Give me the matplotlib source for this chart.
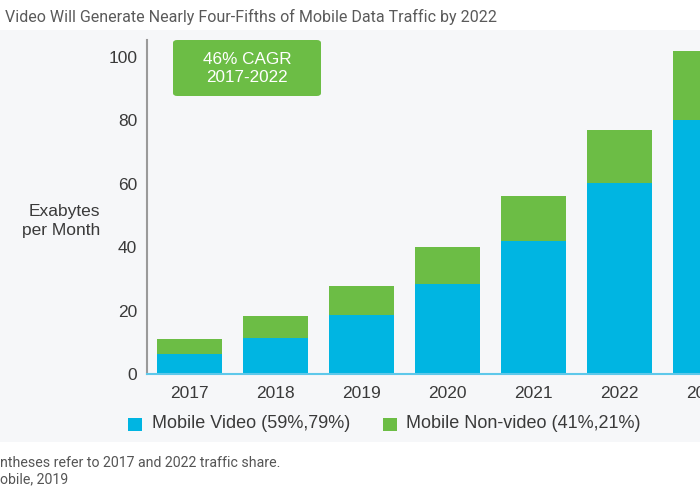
import matplotlib
matplotlib.use("Agg")
import matplotlib.pyplot as plt
from matplotlib.patches import Rectangle, FancyBboxPatch

years = ['2017', '2018', '2019', '2020', '2021', '2022', '2023']
video = [6.3, 11.4, 18.7, 28.5, 42.1, 60.4, 80.0]
nonvideo = [4.6, 7.0, 9.1, 11.7, 14.2, 16.6, 21.9]
yticks = [0, 20, 40, 60, 80, 100]

title = "Video Will Generate Nearly Four-Fifths of Mobile Data Traffic by 2022"
ylabel = "Exabytes\nper Month"
legend_labels = ["Mobile Video (59%,79%)", "Mobile Non-video (41%,21%)"]
cagr_text = "46% CAGR\n2017-2022"
notes = ["ntheses refer to 2017 and 2022 traffic share.", "obile, 2019"]

C_VIDEO = "#00b5e2"
C_NON = "#6cbd45"
TXT = "#3a3a3a"

W, H = 700, 500
fig = plt.figure(figsize=(7, 5), dpi=100)
fig.patch.set_facecolor("white")

# gray panel background
bg = fig.add_axes([0, 1 - 442 / H, 1, (442 - 30) / H], zorder=-5)
bg.set_facecolor("#f6f7f9")
bg.set_axis_off()
bg.add_patch(Rectangle((0, 0), 1, 1, transform=bg.transAxes, facecolor="#f6f7f9", edgecolor="none"))

ax = fig.add_axes([147 / W, 1 - 374 / H, (W - 147) / W + 0.05, (374 - 40) / H], zorder=1)
ax.set_facecolor("none")
x = list(range(len(years)))
ax.bar(x, video, width=0.767, color=C_VIDEO, zorder=2)
ax.bar(x, nonvideo, width=0.767, bottom=video, color=C_NON, zorder=2)
ax.set_xlim(-0.494, -0.494 + (W - 147) / 86 + 0.05 * W / 86)
ax.set_ylim(0, 105.4)
ax.set_yticks(yticks)
ax.set_yticklabels([str(v) for v in yticks], fontsize=12.5, color=TXT, family="Liberation Sans")
ax.set_xticks(x)
ax.set_xticklabels(years, fontsize=12.5, color=TXT, family="Liberation Sans")
ax.tick_params(length=0)
ax.tick_params(axis="y", pad=7)
ax.tick_params(axis="x", pad=9)
for s in ["top", "right"]:
    ax.spines[s].set_visible(False)
ax.spines["left"].set_color("#9a9a9a")
ax.spines["left"].set_linewidth(1.5)
ax.spines["bottom"].set_color("#5ec8ea")
ax.spines["bottom"].set_linewidth(1.5)

fig.text(100 / W, 1 - 221 / H, ylabel, ha="right", va="center", fontsize=12.5,
         color=TXT, family="Liberation Sans", linespacing=1.3)

fig.text(5 / W, 1 - 17 / H, title, ha="left", va="center", fontsize=11.5,
         color="#5a5a5a", family="Roboto")

# CAGR box
fig.patches.append(FancyBboxPatch((173 / W, 1 - 96 / H), (321 - 173) / W, (96 - 40) / H,
                                  boxstyle="round,pad=0,rounding_size=0.006",
                                  transform=fig.transFigure, facecolor=C_NON,
                                  edgecolor="none", zorder=3))
fig.text(247 / W, 1 - 68 / H, cagr_text, ha="center", va="center", fontsize=12.3,
         color="white", family="Liberation Sans", linespacing=1.25, zorder=4)

# legend
fig.patches.append(Rectangle((128 / W, 1 - 431 / H), 14 / W, 13 / H, transform=fig.transFigure,
                             facecolor=C_VIDEO, edgecolor="none", zorder=3))
fig.text(152 / W, 1 - 424 / H, legend_labels[0], ha="left", va="center", fontsize=13,
         color=TXT, family="Liberation Sans", zorder=4)
fig.patches.append(Rectangle((383 / W, 1 - 431 / H), 14 / W, 13 / H, transform=fig.transFigure,
                             facecolor=C_NON, edgecolor="none", zorder=3))
fig.text(406 / W, 1 - 424 / H, legend_labels[1], ha="left", va="center", fontsize=13,
         color=TXT, family="Liberation Sans", zorder=4)

fig.text(0, 1 - 463 / H, notes[0], ha="left", va="center", fontsize=10.2,
         color="#555555", family="Roboto")
fig.text(0, 1 - 479 / H, notes[1], ha="left", va="center", fontsize=10.2,
         color="#555555", family="Roboto")

fig.savefig("out.png", dpi=100, facecolor="white")
